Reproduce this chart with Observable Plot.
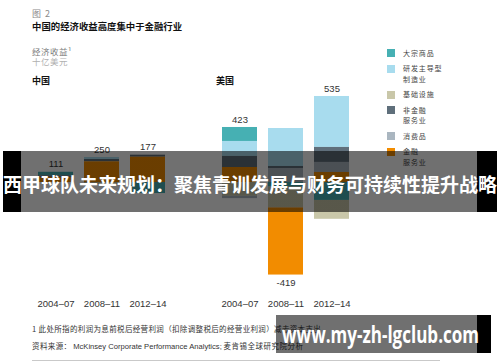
<!DOCTYPE html>
<html><head><meta charset="utf-8">
<script src="https://cdn.jsdelivr.net/npm/d3@7"></script>
<script src="https://cdn.jsdelivr.net/npm/@observablehq/plot@0.6"></script>
<style>
body{margin:0;background:#fff;}
#wrap{position:relative;width:500px;height:362px;overflow:hidden;background:#fff;font-family:"Noto Sans CJK SC","Noto Sans",sans-serif;}
#wrap svg{position:absolute;left:0;top:0;}
.t{position:absolute;white-space:nowrap;line-height:1;}
</style></head><body><div id="wrap"></div>
<script>
// ---- data ----
const sectors = ["大宗商品", "研发主导型\n制造业", "基础设施", "非金融\n服务业", "消费品", "金融\n服务业"];
const colors  = ["#46b0b3", "#a8dcee", "#c9c7a9", "#5f6f7b", "#aab6c0", "#f28c00"];
const bars = ["中国|2004–07", "中国|2008–11", "中国|2012–14", "美国|2004–07", "美国|2008–11", "美国|2012–14"];
const netLabels = ["111", "250", "177", "423", "-419", "535"];
// values in billion USD, per bar (same order as bars)
const commodities     = [38,    0, -120,  152,  -50, -195];
const rdManufacturing = [0,    22,    0,  163,  413,  554];
const infrastructure  = [0,   -22,    0, -150, -226, -205];
const nonFinancial    = [18,   25,   22,  120,   22,  163];
const consumer        = [0,     0,    0,  -25,  152,  109];
const financial       = [55,  225,  275,  163, -730,  109];
const seriesValues = [commodities, rdManufacturing, infrastructure, nonFinancial, consumer, financial];

// ---- build ----
const rows = sectors.flatMap((s, i) => bars.map((b, j) => ({sector: s, bar: b, value: seriesValues[i][j]})));
const pos = rows.filter(d => d.value > 0);
const neg = rows.filter(d => d.value < 0);
const totals = bars.map((b, j) => ({
  bar: b, label: netLabels[j], net: +netLabels[j],
  top: d3.sum(pos.filter(r => r.bar === b), r => r.value),
  bottom: d3.sum(neg.filter(r => r.bar === b), r => r.value)
}));
const xDomain = [bars[0], bars[1], bars[2], " ", bars[3], bars[4], bars[5]];

const chart = Plot.plot({
  width: 500, height: 362,
  marginLeft: 26.4, marginRight: 138.7, marginTop: 90, marginBottom: 78.8,
  x: {domain: xDomain, padding: 0.24},
  y: {domain: [-1100, 1000], axis: null},
  color: {domain: sectors, range: colors},
  style: {fontFamily: "'Liberation Sans', Arial, sans-serif", fontSize: "9.5px", background: "transparent", overflow: "visible"},
  marks: [
    Plot.barY(pos, {x: "bar", y: "value", fill: "sector", order: sectors.slice().reverse()}),
    Plot.barY(neg, {x: "bar", y: "value", fill: "sector", order: sectors}),
    Plot.axisX({tickSize: 0, tickPadding: 16.4, fontSize: 9.5, fill: "#333", label: null,
      tickFormat: d => d.includes("|") ? d.split("|")[1] : ""}),
    Plot.text(totals.filter(d => d.net > 0), {x: "bar", y: "top", text: "label", dy: -8, fill: "#333", fontSize: 9.5}),
    Plot.text(totals.filter(d => d.net < 0), {x: "bar", y: "bottom", text: "label", dy: 8, fill: "#333", fontSize: 9.5})
  ]
});
const wrap = document.getElementById("wrap");
wrap.appendChild(chart);

function addText(txt, left, cy, size, color, extra) {
  const el = document.createElement("div");
  el.className = "t";
  el.textContent = txt;
  el.style.left = left + "px";
  el.style.top = (cy - size / 2) + "px";
  el.style.fontSize = size + "px";
  el.style.height = size + "px";
  el.style.color = color;
  Object.assign(el.style, extra || {});
  wrap.appendChild(el);
  return el;
}
addText("图 2", 32, 13, 9, "#8a8a8a", {letterSpacing: "1px"});
addText("中国的经济收益高度集中于金融行业", 32, 27, 9.4, "#111", {fontWeight: "bold"});
addText("经济收益¹", 32, 51, 8.5, "#7a7a7a", {letterSpacing: "0.5px"});
addText("十亿美元", 32, 61.5, 8.5, "#b0b0b0", {letterSpacing: "0.5px"});
addText("中国", 32, 80, 9, "#111", {fontWeight: "bold"});
addText("美国", 216, 80, 9, "#111", {fontWeight: "bold"});

// legend
const leg = document.createElement("div");
Object.assign(leg.style, {position: "absolute", left: "387px", top: "47.75px", display: "flex", flexDirection: "column", gap: "5px"});
sectors.forEach((s, i) => {
  const it = document.createElement("div");
  Object.assign(it.style, {display: "flex", alignItems: "flex-start"});
  const sq = document.createElement("div");
  Object.assign(sq.style, {width: "8px", height: "8px", marginTop: "1.25px", background: colors[i], flex: "none"});
  const tx = document.createElement("div");
  tx.textContent = s;
  Object.assign(tx.style, {marginLeft: "8px", fontSize: "7px", lineHeight: "10.5px", letterSpacing: "0.9px", color: "#444", whiteSpace: "pre"});
  it.appendChild(sq); it.appendChild(tx);
  leg.appendChild(it);
});
wrap.appendChild(leg);

// footer
addText("1 此处所指的利润为息前税后经营利润（扣除调整税后的经营业利润）减去资本支出", 32, 329, 7.5, "#333", {letterSpacing: "0.35px"});
const f2 = addText("", 32, 346, 7.5, "#333", {});
f2.innerHTML = '<span style="letter-spacing:0.4px">资料来源：</span> <span style="font-family:\'Liberation Sans\',Arial,sans-serif;font-size:7.6px">McKinsey Corporate Performance Analytics;</span> <span style="letter-spacing:0.5px">麦肯锡全球研究院分析</span>';
const rule = document.createElement("div");
Object.assign(rule.style, {position: "absolute", left: "32px", top: "359.5px", width: "408px", height: "1px", background: "#c9c9c9"});
wrap.appendChild(rule);

// overlay banner
const ban = document.createElement("div");
Object.assign(ban.style, {position: "absolute", left: "3px", top: "151px", width: "494px", height: "61px",
  background: "linear-gradient(to right, #000 0, #000 18px, rgba(0,0,0,0.56) 18px, rgba(0,0,0,0.56) 474px, #000 474px)",
  color: "#fff", fontWeight: "bold", fontSize: "19px", lineHeight: "61px", textAlign: "center", whiteSpace: "nowrap",
  fontFamily: "'Noto Sans CJK SC', sans-serif", zIndex: 5, paddingTop: "2px", boxSizing: "border-box"});
ban.textContent = "西甲球队未来规划：聚焦青训发展与财务可持续性提升战略";
wrap.appendChild(ban);

// watermark
const wm = document.createElement("div");
Object.assign(wm.style, {position: "absolute", left: "276px", top: "315px", width: "215px", height: "38px",
  background: "linear-gradient(to right, rgba(0,0,0,0.56) 0, rgba(0,0,0,0.56) 201px, #000 201px)", zIndex: 5, overflow: "hidden"});
const wt = document.createElement("span");
wt.textContent = "www.my-zh-lgclub.com";
Object.assign(wt.style, {position: "absolute", left: "6px", top: "0px", lineHeight: "38px", color: "#fff", fontWeight: "bold",
  fontSize: "23px", fontFamily: "'Open Sans', sans-serif", whiteSpace: "nowrap", transformOrigin: "0 50%", display: "inline-block"});
wm.appendChild(wt);
wrap.appendChild(wm);
const w = wt.getBoundingClientRect().width;
wt.style.transform = `scaleX(${197 / w})`;
</script></body></html>
